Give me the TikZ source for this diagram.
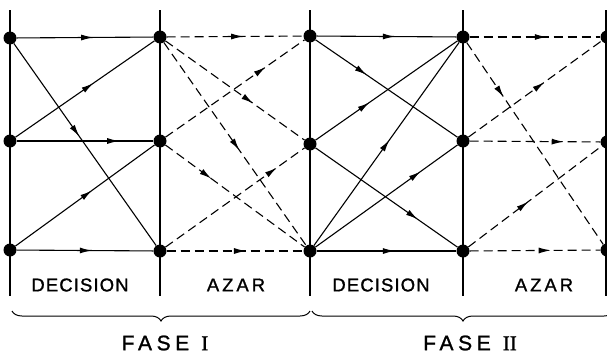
\documentclass[tikz,border=0pt]{standalone}
\usepackage{fontspec}
\setmainfont{Liberation Sans}
\newfontfamily\labfont[LetterSpace=6,FakeBold=1.2]{Liberation Sans}
\newfontfamily\azfont[LetterSpace=16,FakeBold=1.2]{Liberation Sans}
\newfontfamily\fasefont[LetterSpace=22,FakeBold=1.2]{Liberation Sans}
\newfontfamily\romfont[FakeBold=1.2]{Liberation Serif}
\usetikzlibrary{arrows.meta,decorations.markings,decorations.pathreplacing}
\tikzset{
  dot/.style={circle,fill=black,inner sep=0pt,minimum size=13pt},
  gridline/.style={line width=1.2pt},
  sol/.style={line width=1.1pt},
  dsh/.style={line width=1.1pt,dash pattern=on 9pt off 5pt},
  ma/.style={postaction={decorate},decoration={markings,
     mark=at position #1 with {\arrow{Latex[length=12pt,width=6pt]}}}},
  lab/.style={font=\fontsize{18.5}{18.5}\selectfont\labfont,inner sep=0pt},
  azlab/.style={font=\fontsize{18.5}{18.5}\selectfont\azfont,inner sep=0pt},
  fase/.style={font=\fontsize{21}{21}\selectfont\fasefont,inner sep=0pt},
  brc/.style={line width=1pt,decorate,decoration={brace,mirror,amplitude=10pt}}
}
\begin{document}
\begin{tikzpicture}[x=1pt,y=-1pt]
\useasboundingbox (0,0) rectangle (607,356);
% vertical lines
\foreach \x/\n in {10/a,160/b,310/c,463/d,606/e}{
  \coordinate (t\n) at (\x,10);
  \coordinate (u\n) at (\x,296);
  \draw[gridline] (t\n) -- (u\n);
}
% nodes
\node[dot] (A0) at (10,38) {};
\node[dot] (A1) at (10,141) {};
\node[dot] (A2) at (10,250) {};
\node[dot] (B0) at (160,37) {};
\node[dot] (B1) at (160,141) {};
\node[dot] (B2) at (160,251) {};
\node[dot] (C0) at (310,36) {};
\node[dot] (C1) at (310,144) {};
\node[dot] (C2) at (310,251) {};
\node[dot] (D0) at (463,37) {};
\node[dot] (D1) at (463,141) {};
\node[dot] (D2) at (463,251) {};
\node[dot] (E0) at (607,37) {};
\node[dot] (E1) at (607,142) {};
\node[dot] (E2) at (607,250) {};
% decision I
\draw[sol,ma=0.56] (A0) -- (B0);
\draw[sol,ma=0.46] (A0) -- (B2);
\draw[sol,ma=0.56] (A1) -- (B0);
\draw[sol,ma=0.75] (A1) -- (B1);
\draw[sol,ma=0.55] (A2) -- (B1);
\draw[sol,ma=0.55] (A2) -- (B2);
% azar I
\draw[dsh,ma=0.56] (B0) -- (C0);
\draw[dsh,ma=0.63] (B0) -- (C1);
\draw[dsh,ma=0.53] (B0) -- (C2);
\draw[dsh,ma=0.72] (B1) -- (C0);
\draw[dsh,ma=0.33] (B1) -- (C2);
\draw[dsh,ma=0.80] (B2) -- (C1);
\draw[dsh,ma=0.58] (B2) -- (C2);
% decision II
\draw[sol,ma=0.56] (C0) -- (D0);
\draw[sol,ma=0.36] (C0) -- (D1);
\draw[sol,ma=0.38] (C1) -- (D0);
\draw[sol,ma=0.52] (C2) -- (D0);
\draw[sol,ma=0.74] (C2) -- (D1);
\draw[sol,ma=0.72] (C1) -- (D2);
\draw[sol,ma=0.56] (C2) -- (D2);
% azar II
\draw[dsh,ma=0.59] (D0) -- (E0);
\draw[dsh,ma=0.27] (D0) -- (E2);
\draw[dsh,ma=0.57] (D1) -- (E0);
\draw[dsh,ma=0.72] (D1) -- (E1);
\draw[dsh,ma=0.45] (D2) -- (E1);
\draw[dsh,ma=0.62] (D2) -- (E2);
% labels
\node[lab] (l1) at (80,285) {DECISION};
\node[azlab] (l2) at (236,285) {AZAR};
\node[lab] (l3) at (381,285) {DECISION};
\node[azlab] (l4) at (544,285) {AZAR};
% braces
\coordinate (b1s) at (12,311);
\coordinate (b1e) at (310,311);
\coordinate (b2s) at (312,311);
\coordinate (b2e) at (614,311);
\draw[brc] (b1s) -- (b1e);
\draw[brc] (b2s) -- (b2e);
\node[fase] (f1) at (165,343) {FASE\hspace{12pt}{\romfont I}};
\node[fase] (f2) at (470,343) {FASE\hspace{12pt}{\romfont II}};
\end{tikzpicture}
\end{document}
